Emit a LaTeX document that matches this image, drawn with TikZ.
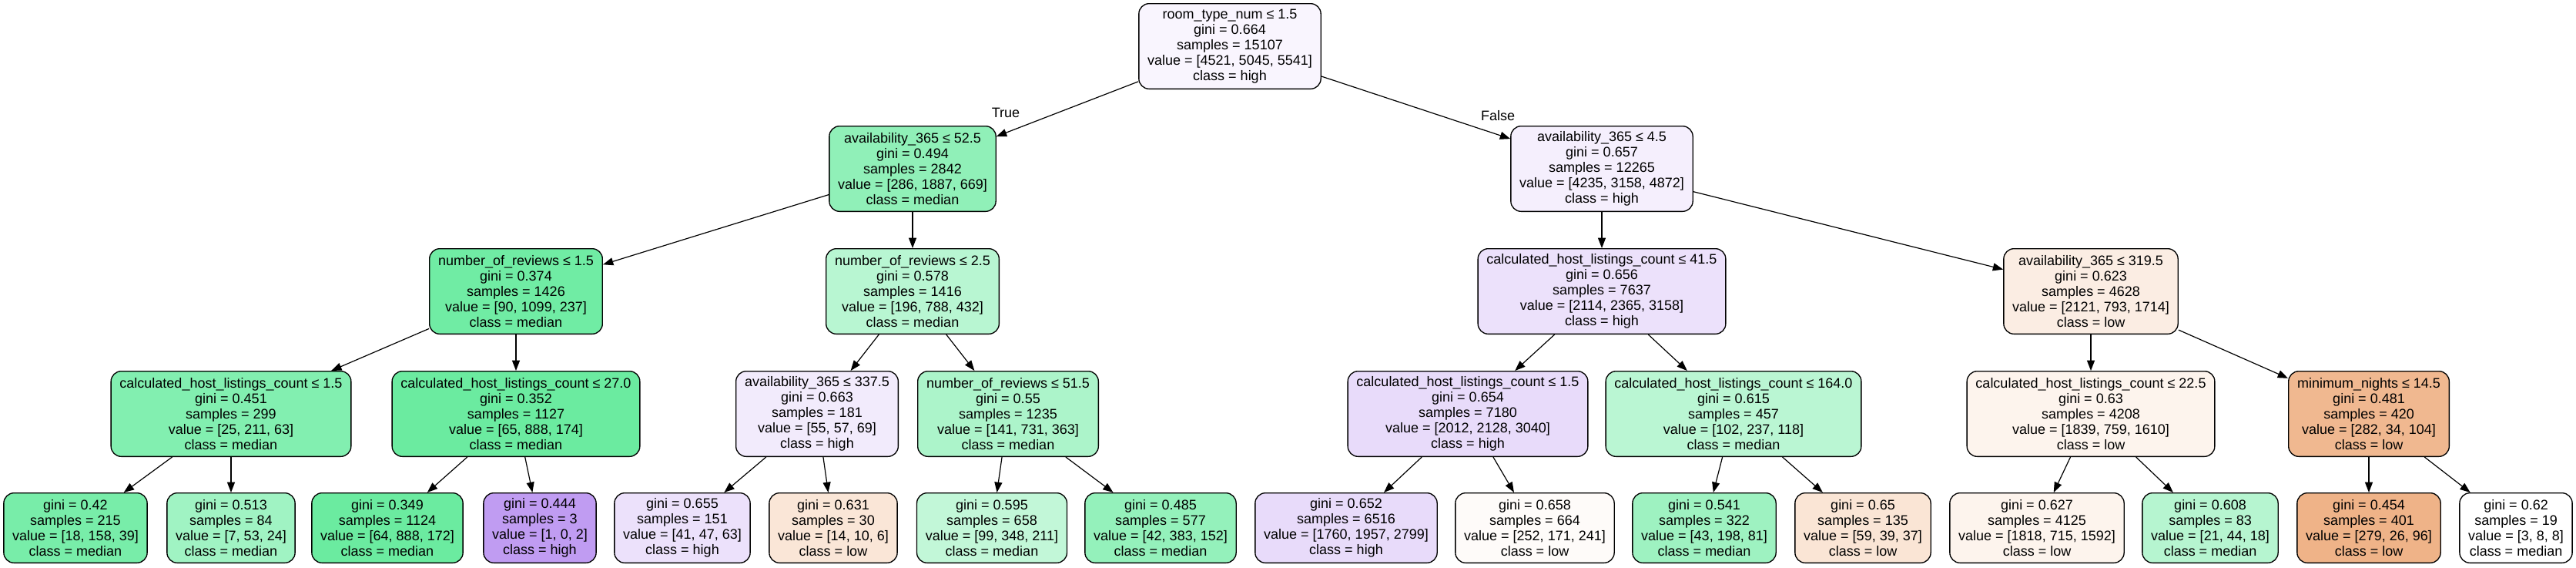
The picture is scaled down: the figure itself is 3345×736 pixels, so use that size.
\documentclass[tikz,border=0pt]{standalone}
\usepackage{fontspec}
\setmainfont{Liberation Sans}
\usetikzlibrary{arrows.meta}

\definecolor{lowc}{HTML}{E58139}
\definecolor{medc}{HTML}{39E581}
\definecolor{highc}{HTML}{8139E5}

\tikzset{
  dtnode/.style={draw, rounded corners=10pt, line width=1pt, align=center,
    font=\fontsize{13.5}{15}\selectfont, inner xsep=8.5pt, inner ysep=3pt},
  split/.style={dtnode, minimum height=83pt},
  leaf/.style={dtnode, minimum height=68pt},
  edge/.style={-{Triangle[length=10pt,width=7.5pt]}, line width=0.9pt},
}

\begin{document}
\begin{tikzpicture}[x=0.75pt, y=-0.75pt]
 \useasboundingbox (0,0) rectangle (3345,736);
 % root and first split
 \node[split, fill=highc!5] (n0) at (1597,60)
   {room\_type\_num ≤ 1.5\\gini = 0.664\\samples = 15107\\value = [4521, 5045, 5541]\\class = high};
 \node[split, fill=medc!56] (n1) at (1185,219)
   {availability\_365 ≤ 52.5\\gini = 0.494\\samples = 2842\\value = [286, 1887, 669]\\class = median};
 \node[split, fill=highc!8] (n16) at (2080,219)
   {availability\_365 ≤ 4.5\\gini = 0.657\\samples = 12265\\value = [4235, 3158, 4872]\\class = high};
 % depth 2
 \node[split, fill=medc!72] (n2) at (670,378)
   {number\_of\_reviews ≤ 1.5\\gini = 0.374\\samples = 1426\\value = [90, 1099, 237]\\class = median};
 \node[split, fill=medc!36] (n9) at (1185,378)
   {number\_of\_reviews ≤ 2.5\\gini = 0.578\\samples = 1416\\value = [196, 788, 432]\\class = median};
 \node[split, fill=highc!15] (n17) at (2080,378)
   {calculated\_host\_listings\_count ≤ 41.5\\gini = 0.656\\samples = 7637\\value = [2114, 2365, 3158]\\class = high};
 \node[split, fill=lowc!14] (n24) at (2715,378)
   {availability\_365 ≤ 319.5\\gini = 0.623\\samples = 4628\\value = [2121, 793, 1714]\\class = low};
 % depth 3
 \node[split, fill=medc!63] (n3) at (300,537)
   {calculated\_host\_listings\_count ≤ 1.5\\gini = 0.451\\samples = 299\\value = [25, 211, 63]\\class = median};
 \node[split, fill=medc!75] (n6) at (670,537)
   {calculated\_host\_listings\_count ≤ 27.0\\gini = 0.352\\samples = 1127\\value = [65, 888, 174]\\class = median};
 \node[split, fill=highc!10] (n10) at (1061,537)
   {availability\_365 ≤ 337.5\\gini = 0.663\\samples = 181\\value = [55, 57, 69]\\class = high};
 \node[split, fill=medc!42] (n13) at (1309,537)
   {number\_of\_reviews ≤ 51.5\\gini = 0.55\\samples = 1235\\value = [141, 731, 363]\\class = median};
 \node[split, fill=highc!18] (n18) at (1906,537)
   {calculated\_host\_listings\_count ≤ 1.5\\gini = 0.654\\samples = 7180\\value = [2012, 2128, 3040]\\class = high};
 \node[split, fill=medc!35] (n21) at (2251,537)
   {calculated\_host\_listings\_count ≤ 164.0\\gini = 0.615\\samples = 457\\value = [102, 237, 118]\\class = median};
 \node[split, fill=lowc!9] (n25) at (2715,537)
   {calculated\_host\_listings\_count ≤ 22.5\\gini = 0.63\\samples = 4208\\value = [1839, 759, 1610]\\class = low};
 \node[split, fill=lowc!56] (n28) at (3076,537)
   {minimum\_nights ≤ 14.5\\gini = 0.481\\samples = 420\\value = [282, 34, 104]\\class = low};
 % leaves
 \node[leaf, fill=medc!68] (n4) at (98,685)
   {gini = 0.42\\samples = 215\\value = [18, 158, 39]\\class = median};
 \node[leaf, fill=medc!48] (n5) at (300,685)
   {gini = 0.513\\samples = 84\\value = [7, 53, 24]\\class = median};
 \node[leaf, fill=medc!75] (n7) at (503,685)
   {gini = 0.349\\samples = 1124\\value = [64, 888, 172]\\class = median};
 \node[leaf, fill=highc!50] (n8) at (701,685)
   {gini = 0.444\\samples = 3\\value = [1, 0, 2]\\class = high};
 \node[leaf, fill=highc!15] (n11) at (886,685)
   {gini = 0.655\\samples = 151\\value = [41, 47, 63]\\class = high};
 \node[leaf, fill=lowc!20] (n12) at (1082,685)
   {gini = 0.631\\samples = 30\\value = [14, 10, 6]\\class = low};
 \node[leaf, fill=medc!31] (n14) at (1288,685)
   {gini = 0.595\\samples = 658\\value = [99, 348, 211]\\class = median};
 \node[leaf, fill=medc!54] (n15) at (1507,685)
   {gini = 0.485\\samples = 577\\value = [42, 383, 152]\\class = median};
 \node[leaf, fill=highc!18] (n19) at (1748,685)
   {gini = 0.652\\samples = 6516\\value = [1760, 1957, 2799]\\class = high};
 \node[leaf, fill=lowc!3] (n20) at (1993,685)
   {gini = 0.658\\samples = 664\\value = [252, 171, 241]\\class = low};
 \node[leaf, fill=medc!49] (n22) at (2213,685)
   {gini = 0.541\\samples = 322\\value = [43, 198, 81]\\class = median};
 \node[leaf, fill=lowc!21] (n23) at (2419,685)
   {gini = 0.65\\samples = 135\\value = [59, 39, 37]\\class = low};
 \node[leaf, fill=lowc!9] (n26) at (2645,685)
   {gini = 0.627\\samples = 4125\\value = [1818, 715, 1592]\\class = low};
 \node[leaf, fill=medc!37] (n27) at (2870,685)
   {gini = 0.608\\samples = 83\\value = [21, 44, 18]\\class = median};
 \node[leaf, fill=lowc!60] (n29) at (3076,685)
   {gini = 0.454\\samples = 401\\value = [279, 26, 96]\\class = low};
 \node[leaf, fill=white] (n30) at (3267,685)
   {gini = 0.62\\samples = 19\\value = [3, 8, 8]\\class = median};
 % edges
 \foreach \a/\b in {n0/n1, n0/n16, n1/n2, n1/n9, n16/n17, n16/n24,
     n2/n3, n2/n6, n9/n10, n9/n13, n17/n18, n17/n21, n24/n25, n24/n28,
     n3/n4, n3/n5, n6/n7, n6/n8, n10/n11, n10/n12, n13/n14, n13/n15,
     n18/n19, n18/n20, n21/n22, n21/n23, n25/n26, n25/n27, n28/n29, n28/n30}
   \draw[edge] (\a) -- (\b);
 \node[font=\fontsize{13.5}{15}\selectfont] (lblT) at (1306,146) {True};
 \node[font=\fontsize{13.5}{15}\selectfont] (lblF) at (1945,150) {False};
\end{tikzpicture}
\end{document}
